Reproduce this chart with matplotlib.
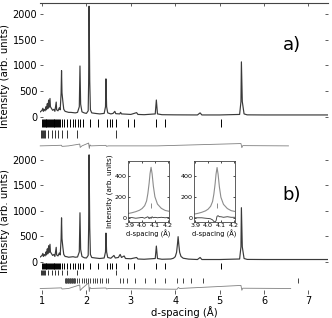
"""Two-panel powder diffraction pattern (a, b) with reflection markers,
difference curves and two zoomed insets around d = 4.07 A."""
import matplotlib
matplotlib.use("Agg")
import matplotlib.pyplot as plt

# ---- panel a: profile (d in A, intensity) ----
D_A = [0.96, 1.00, 1.02, 1.03, 1.05, 1.07, 1.09, 1.10, 1.12, 1.13, 1.15, 1.16, 1.18, 1.19,
       1.21, 1.24, 1.27, 1.29, 1.32, 1.33, 1.36, 1.39, 1.41, 1.43, 1.44, 1.45, 1.47, 1.49,
       1.52, 1.56, 1.60, 1.65, 1.70, 1.75, 1.80, 1.84, 1.855, 1.87, 1.90, 1.95, 2.00, 2.04,
       2.05, 2.06, 2.075, 2.09, 2.12, 2.20, 2.30, 2.40, 2.43, 2.44, 2.455, 2.48, 2.55, 2.60,
       2.64, 2.66, 2.75, 2.77, 2.79, 2.90, 3.00, 3.13, 3.16, 3.30, 3.55, 3.575, 3.60, 3.70,
       4.00, 4.50, 4.56, 4.60, 5.00, 5.45, 5.48, 5.49, 5.51, 5.55, 5.62, 6.00, 7.44]
I_A = [100, 130, 170, 110, 150, 120, 200, 140, 260, 160, 330, 190, 360, 200,
       170, 130, 150, 110, 290, 140, 120, 180, 140, 460, 900, 470, 300, 150,
       110, 100, 90, 90, 85, 80, 90, 200, 990, 250, 100, 80, 70, 120,
       660, 2150, 700, 140, 80, 70, 60, 70, 200, 740, 200, 80, 60, 70,
       110, 65, 60, 90, 60, 55, 50, 85, 50, 45, 60, 330, 60, 45,
       42, 40, 80, 40, 40, 50, 300, 1070, 300, 60, 42, 40, 40]
RES_D_A = [0.96, 1.20, 1.44, 1.45, 1.60, 1.85, 1.86, 1.90, 2.05, 2.065, 2.08, 2.10,
           2.44, 2.45, 2.50, 3.60, 5.48, 5.50, 5.52, 6.55]
RES_I_A = [-560, -555, -548, -570, -560, -525, -590, -560, -505, -610, -540, -560,
           -550, -568, -560, -560, -515, -595, -555, -560]

# ---- panel b ----
D_B = [0.96, 1.00, 1.02, 1.03, 1.05, 1.07, 1.09, 1.10, 1.12, 1.13, 1.15, 1.16, 1.18, 1.19,
       1.21, 1.24, 1.27, 1.29, 1.32, 1.33, 1.36, 1.39, 1.41, 1.43, 1.44, 1.45, 1.47, 1.49,
       1.52, 1.56, 1.60, 1.65, 1.70, 1.75, 1.80, 1.84, 1.855, 1.87, 1.90, 1.95, 2.00, 2.04,
       2.05, 2.06, 2.075, 2.09, 2.12, 2.20, 2.30, 2.40, 2.43, 2.44, 2.455, 2.48, 2.55, 2.62,
       2.65, 2.72, 2.76, 2.79, 2.85, 2.88, 3.00, 3.13, 3.16, 3.30, 3.55, 3.575, 3.60, 3.70,
       3.90, 3.96, 4.00, 4.03, 4.05, 4.065, 4.08, 4.10, 4.13, 4.18, 4.30, 4.50, 4.56, 4.60,
       5.00, 5.45, 5.48, 5.49, 5.51, 5.55, 5.62, 6.00, 7.44]
I_B = [90, 120, 160, 100, 140, 110, 190, 130, 250, 150, 310, 180, 340, 190,
       160, 120, 140, 100, 280, 130, 110, 170, 130, 440, 860, 450, 280, 140,
       100, 95, 85, 90, 95, 85, 90, 190, 960, 240, 100, 75, 70, 120,
       640, 2100, 680, 140, 80, 70, 60, 70, 190, 560, 190, 80, 65, 120,
       70, 80, 140, 80, 110, 60, 55, 80, 50, 45, 60, 305, 60, 45,
       50, 65, 95, 180, 340, 490, 340, 180, 100, 65, 48, 40, 80, 40,
       40, 50, 290, 1060, 290, 60, 42, 40, 40]
RES_D_B = [0.96, 1.20, 1.44, 1.45, 1.60, 1.85, 1.86, 1.90, 2.05, 2.065, 2.08, 2.10,
           2.44, 2.45, 2.50, 4.04, 4.07, 4.10, 5.48, 5.50, 5.52, 6.60]
RES_I_B = [-530, -525, -518, -540, -530, -460, -570, -530, -420, -590, -510, -530,
           -520, -540, -530, -545, -510, -530, -470, -565, -525, -530]

# ---- reflection markers (d positions) ----
TICKS_1 = [1.00, 1.02, 1.04, 1.06, 1.08, 1.10, 1.12, 1.14, 1.16, 1.18, 1.20, 1.22, 1.24,
           1.26, 1.28, 1.30, 1.32, 1.34, 1.36, 1.38, 1.40, 1.44, 1.50, 1.56, 1.63, 1.69,
           1.75, 1.80, 1.86, 1.93, 2.08, 2.27, 2.46, 2.52, 2.57, 2.67, 2.94, 3.07, 3.57,
           3.78, 5.03]
TICKS_2 = [0.98, 1.00, 1.02, 1.04, 1.06, 1.14, 1.22, 1.29, 1.37, 1.44, 1.56, 1.78, 2.66]
TICKS_3 = [1.52, 1.535, 1.55, 1.565, 1.58, 1.595, 1.61, 1.625, 1.64, 1.655, 1.67, 1.685,
           1.70, 1.715, 1.73, 1.745, 1.79, 1.84, 1.89, 1.94, 1.99, 2.04, 2.09, 2.14, 2.19,
           2.24, 2.30, 2.36, 2.43, 2.49, 2.76, 2.83, 2.91, 3.09, 3.32, 3.55, 3.77, 4.03,
           4.18, 4.35, 4.63, 6.77]

# ---- insets around the 4.07 A peak ----
INSET_D = [3.89, 3.92, 3.95, 3.98, 4.00, 4.02, 4.035, 4.045, 4.055, 4.062, 4.07, 4.078,
           4.088, 4.10, 4.12, 4.15, 4.18, 4.21]
INSET1_I = [40, 48, 58, 72, 88, 115, 160, 230, 330, 420, 480, 420, 300, 200, 130, 90, 70, 62]
INSET1_RES = [0, 2, -4, 0, 4, -4, 5, 10, -8, 5, -6, 10, 0, 5, 0, 5, 0, 4]
INSET2_I = [35, 42, 52, 66, 82, 110, 155, 225, 325, 415, 478, 415, 295, 195, 128, 88, 68, 60]
INSET2_RES = [0, 0, 0, -4, -6, -10, -20, -35, -40, -28, 15, 20, 10, 10, 5, 10, 5, 5]
INSET_PEAK = [4.07]

XTICKS = [1, 2, 3, 4, 5, 6, 7]
YTICKS = [0, 500, 1000, 1500, 2000]

LINE = "#3a3a3a"
RES = "#808080"


def panel(ax, d, inten, rd, ri, rows, ylim, tag):
    ax.plot(d, inten, color=LINE, lw=0.85)
    ax.plot(rd, ri, color=RES, lw=0.6, clip_on=False)
    for pos, (lo, hi), col in rows:
        ax.vlines(pos, lo, hi, color=col, lw=0.7)
    ax.set_xlim(0.955, 7.44)
    ax.set_ylim(*ylim)
    ax.set_yticks(YTICKS)
    ax.set_xticks(XTICKS)
    ax.tick_params(axis="y", direction="in", length=2.5, width=0.6, right=True,
                   labelsize=7, pad=2, color="#444444")
    for s in ax.spines.values():
        s.set_visible(False)
    ax.set_ylabel("Intensity (arb. units)", fontsize=7.3, labelpad=2)
    ax.text(0.875, tag[1], tag[0], transform=ax.transAxes, fontsize=13,
            ha="center", va="center")


fig = plt.figure(figsize=(3.32, 3.18), dpi=100)
ax_a = fig.add_axes([40 / 332, 1 - 150 / 318, 288 / 332, 147 / 318])
ax_b = fig.add_axes([40 / 332, 1 - 290 / 318, 288 / 332, 138 / 318])

panel(ax_a, D_A, I_A, RES_D_A, RES_I_A,
      [(TICKS_1, (-195, -40), "black"), (TICKS_2, (-407, -252), "#333333")],
      (-640, 2212), ("a)", 0.714))
ax_a.spines["top"].set_visible(True)
ax_a.spines["top"].set_color("#444444")
ax_a.spines["top"].set_linewidth(0.8)
ax_a.tick_params(axis="x", direction="in", top=True, bottom=False, labelbottom=False,
                 length=2.5, width=0.6, color="#444444")

panel(ax_b, D_B, I_B, RES_D_B, RES_I_B,
      [(TICKS_1, (-141, -33), "black"), (TICKS_2, (-268, -170), "#333333"),
       (TICKS_3, (-424, -327), "#444444")],
      (-560, 2156), ("b)", 0.688))
ax_b.tick_params(axis="x", direction="out", length=3, width=0.6, labelsize=7, pad=1.5,
                 color="#444444")
ax_b.set_xlabel("d-spacing (Å)", fontsize=7.2, labelpad=0)

for left, inten, res, ylab in [(128, INSET1_I, INSET1_RES, True),
                               (194, INSET2_I, INSET2_RES, False)]:
    ins = fig.add_axes([left / 332, 1 - 222 / 318, 41 / 332, 61 / 318])
    ins.plot(INSET_D, inten, color="#8c8c8c", lw=0.8)
    ins.plot(INSET_D, res, color="#333333", lw=0.6)
    ins.vlines(INSET_PEAK, 95, 140, color="#777777", lw=0.6)
    ins.set_xlim(3.89, 4.21)
    ins.set_ylim(-40, 540)
    ins.set_xticks([3.9, 4.0, 4.1, 4.2])
    ins.set_yticks([0, 200, 400])
    ins.tick_params(direction="in", length=1.5, width=0.5, labelsize=4.6, pad=1,
                    top=True, right=True)
    for s in ins.spines.values():
        s.set_linewidth(0.6)
        s.set_color("#444444")
    ins.set_xlabel("d-spacing (Å)", fontsize=4.8, labelpad=1)
    if ylab:
        ins.set_ylabel("Intensity (arb. units)", fontsize=5.2, labelpad=1)

fig.savefig("out.png", dpi=100)
